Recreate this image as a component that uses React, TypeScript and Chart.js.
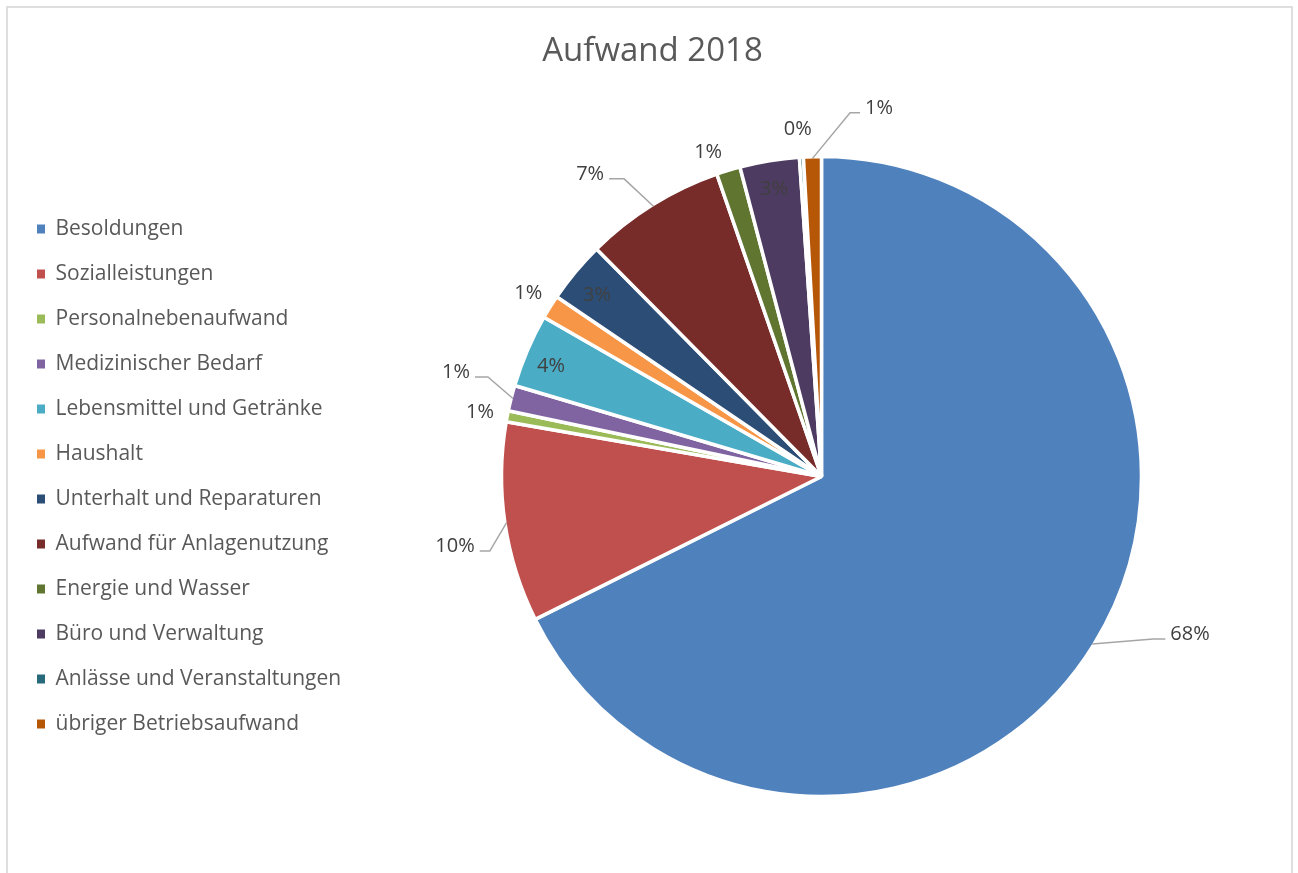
import React, { useEffect, useRef } from 'react';
import { Chart, registerables } from 'chart.js';

Chart.register(...registerables);

const chartTitle = 'Aufwand 2018';

const categories = [
  'Besoldungen',
  'Sozialleistungen',
  'Personalnebenaufwand',
  'Medizinischer Bedarf',
  'Lebensmittel und Getränke',
  'Haushalt',
  'Unterhalt und Reparaturen',
  'Aufwand für Anlagenutzung',
  'Energie und Wasser',
  'Büro und Verwaltung',
  'Anlässe und Veranstaltungen',
  'übriger Betriebsaufwand',
];

// estimated shares (percent of total)
const shares = [67.6, 10.1, 0.55, 1.3, 3.7, 1.2, 3.1, 7.1, 1.2, 3.0, 0.2, 0.9];

const sliceColors = [
  '#4F81BD', '#C0504D', '#9BBB59', '#8064A2', '#4BACC6', '#F79646',
  '#2C4D75', '#772C2A', '#5F7530', '#4D3B62', '#276A7C', '#B65708',
];

// label placement: angular offset from slice middle (deg), radius factor, leader line
const labelLayout = [
  { off: -8.74, r: 1.251, leader: true, seg: 12 },
  { off: -2.27, r: 1.165, leader: true, seg: 10 },
  { off: 0.05, r: 1.087, leader: false, seg: 0 },
  { off: 1.92, r: 1.189, leader: true, seg: 13 },
  { off: -0.79, r: 0.914, leader: false, seg: 0 },
  { off: 0.19, r: 1.083, leader: false, seg: 0 },
  { off: -0.66, r: 0.904, leader: false, seg: 0 },
  { off: -5.43, r: 1.193, leader: true, seg: 15 },
  { off: -2.27, r: 1.077, leader: false, seg: 0 },
  { off: 0.01, r: 0.914, leader: false, seg: 0 },
  { off: -0.3, r: 1.092, leader: false, seg: 0 },
  { off: 10.47, r: 1.169, leader: true, seg: 10 },
];

const FONT = '"Open Sans", "DejaVu Sans", sans-serif';

const sliceLabels = {
  id: 'sliceLabels',
  afterDatasetsDraw(chart: any) {
    const meta = chart.getDatasetMeta(0);
    const data: number[] = chart.data.datasets[0].data;
    const total = data.reduce((a, b) => a + b, 0);
    const ctx = chart.ctx as CanvasRenderingContext2D;
    ctx.save();
    const size = 20;
    ctx.font = `${size}px ${FONT}`;
    const capH = size * 0.714;
    meta.data.forEach((arc: any, i: number) => {
      const spec = labelLayout[i];
      if (!spec) return;
      const { x, y, startAngle, endAngle, outerRadius } = arc.getProps(
        ['x', 'y', 'startAngle', 'endAngle', 'outerRadius'],
        true
      );
      const mid = (startAngle + endAngle) / 2;
      const a = mid + (spec.off * Math.PI) / 180;
      const r = outerRadius * spec.r;
      const tx = x + r * Math.cos(a);
      const ty = y + r * Math.sin(a);
      const text = Math.round((data[i] / total) * 100) + '%';
      const tw = ctx.measureText(text).width;
      ctx.fillStyle = '#404040';
      ctx.textAlign = 'center';
      ctx.textBaseline = 'alphabetic';
      ctx.fillText(text, tx, ty + capH / 2);
      if (spec.leader) {
        const left = tx < x;
        const ex = left ? tx + tw / 2 + 5 : tx - tw / 2 - 5;
        const ey = ty + 6;
        const bx = left ? ex + spec.seg : ex - spec.seg;
        const edgeR = outerRadius - 1.75;
        const px = x + edgeR * Math.cos(mid);
        const py = y + edgeR * Math.sin(mid);
        ctx.beginPath();
        ctx.moveTo(ex, ey);
        ctx.lineTo(bx, ey);
        ctx.lineTo(px, py);
        ctx.strokeStyle = '#a6a6a6';
        ctx.lineWidth = 1.5;
        ctx.stroke();
      }
    });
    ctx.restore();
  },
};

export default function App() {
  const canvasRef = useRef<HTMLCanvasElement | null>(null);

  useEffect(() => {
    if (!canvasRef.current) return;
    Chart.defaults.font.family = FONT;
    const chart = new Chart(canvasRef.current, {
      type: 'pie',
      data: {
        labels: categories,
        datasets: [
          {
            data: shares,
            backgroundColor: sliceColors,
            borderColor: '#ffffff',
            borderWidth: 3.5,
          },
        ],
      },
      options: {
        animation: false,
        responsive: true,
        maintainAspectRatio: false,
        events: [],
        radius: 320,
        layout: { padding: { left: 13, right: 6, top: 0, bottom: 78 } },
        plugins: {
          tooltip: { enabled: false },
          title: {
            display: true,
            text: chartTitle,
            color: '#595959',
            font: { size: 33, weight: 'normal', family: FONT },
            padding: { top: 31.5, bottom: 86.9 },
          },
          legend: {
            display: true,
            position: 'left',
            align: 'center',
            fullSize: false,
            maxWidth: 338,
            labels: {
              boxWidth: 8,
              boxHeight: 9,
              padding: 24,
              color: '#595959',
              font: { size: 21, family: FONT },
              generateLabels: (c: any) =>
                c.data.labels.map((t: string, i: number) => ({
                  text: t,
                  fillStyle: sliceColors[i],
                  strokeStyle: sliceColors[i],
                  lineWidth: 0,
                  fontColor: '#595959',
                  hidden: false,
                  index: i,
                })),
            },
          },
        },
      } as any,
      plugins: [sliceLabels],
    });
    return () => chart.destroy();
  }, []);

  return (
    <>
      <div style={{ position: 'fixed', left: 0, top: 0, width: 1298, height: 873, background: '#fff' }}>
        <canvas ref={canvasRef} />
      </div>
      <div
        style={{
          position: 'fixed',
          left: 6,
          top: 6,
          width: 1283,
          height: 867,
          borderTop: '2px solid #dedede',
          borderLeft: '2px solid #dedede',
          borderRight: '2px solid #dedede',
          pointerEvents: 'none',
        }}
      />
    </>
  );
}
